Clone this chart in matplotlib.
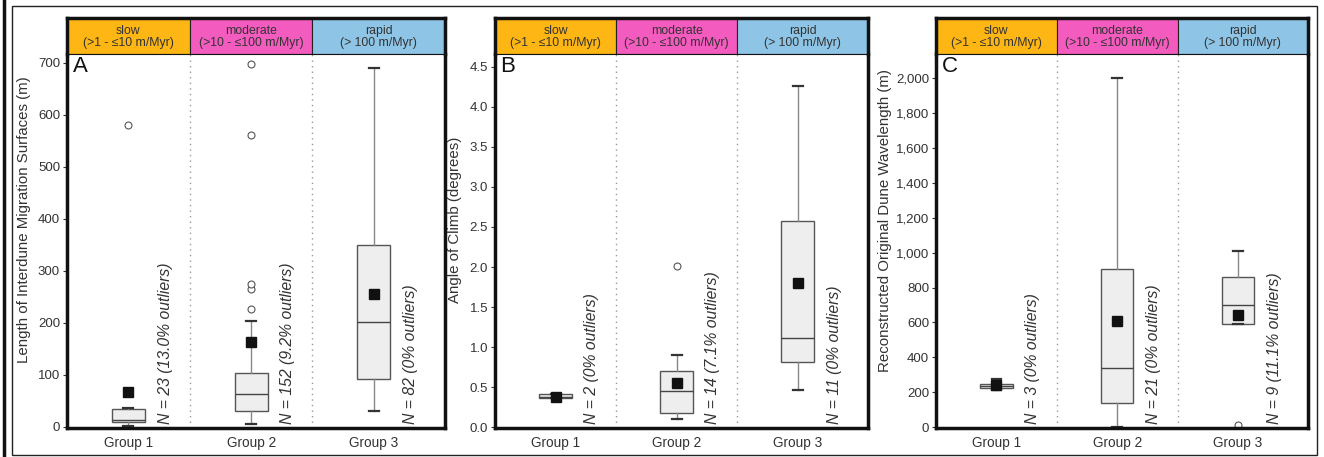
import matplotlib.pyplot as plt
from matplotlib.patches import Rectangle
from matplotlib.lines import Line2D
from matplotlib.ticker import FuncFormatter

plt.rcParams['font.family'] = ['Liberation Sans', 'DejaVu Sans']

groups = ['Group 1', 'Group 2', 'Group 3']
rate_names = ['slow\n(>1 - \u226410 m/Myr)', 'moderate\n(>10 - \u2264100 m/Myr)', 'rapid\n(> 100 m/Myr)']
rate_colors = ['#FDB614', '#F45BBF', '#8EC5E6']

# panel A - length of interdune migration surfaces (m)
a_q1 = [10, 30, 92]
a_med = [13, 63, 201]
a_q3 = [35, 104, 349]
a_lo = [2, 6, 31]
a_hi = [36, 203, 690]
a_mean = [67, 163, 256]
a_out = [[580], [226, 266, 275, 561, 698], []]
a_n = ['N = 23 (13.0% outliers)', 'N = 152 (9.2% outliers)', 'N = 82 (0% outliers)']

# panel B - angle of climb (degrees)
b_q1 = [0.36, 0.18, 0.81]
b_med = [0.38, 0.45, 1.12]
b_q3 = [0.41, 0.70, 2.58]
b_lo = [0.36, 0.10, 0.46]
b_hi = [0.41, 0.90, 4.26]
b_mean = [0.38, 0.55, 1.80]
b_out = [[], [2.01], []]
b_n = ['N = 2 (0% outliers)', 'N = 14 (7.1% outliers)', 'N = 11 (0% outliers)']

# panel C - reconstructed original dune wavelength (m)
c_q1 = [226, 141, 592]
c_med = [238, 340, 700]
c_q3 = [250, 907, 861]
c_lo = [215, 3, 592]
c_hi = [276, 2000, 1010]
c_mean = [244, 608, 645]
c_out = [[], [], [15]]
c_n = ['N = 3 (0% outliers)', 'N = 21 (0% outliers)', 'N = 9 (11.1% outliers)']

panels = [
    dict(letter='A', q1=a_q1, med=a_med, q3=a_q3, lo=a_lo, hi=a_hi, mean=a_mean, out=a_out, n=a_n,
         ylabel='Length of Interdune Migration Surfaces (m)', ylim=(-2, 717), ticks=range(0, 701, 100),
         left=67, right=445, ylab_x=24),
    dict(letter='B', q1=b_q1, med=b_med, q3=b_q3, lo=b_lo, hi=b_hi, mean=b_mean, out=b_out, n=b_n,
         ylabel='Angle of Climb (degrees)', ylim=(-0.01, 4.66), ticks=[i * 0.5 for i in range(10)],
         left=495, right=868, ylab_x=455),
    dict(letter='C', q1=c_q1, med=c_med, q3=c_q3, lo=c_lo, hi=c_hi, mean=c_mean, out=c_out, n=c_n,
         ylabel='Reconstructed Original Dune Wavelength (m)', ylim=(-4, 2137), ticks=range(0, 2001, 200),
         left=936, right=1308, ylab_x=885),
]

W, H = 1324, 457
fig = plt.figure(figsize=(W / 100, H / 100), dpi=100)

# outer frame
fig.add_artist(Rectangle((12 / W, 1 - 455 / H), 1305 / W, 449 / H, transform=fig.transFigure,
                         fill=False, lw=1.0, ec='#222222'))
fig.add_artist(Line2D([4 / W, 4 / W], [0, 1], transform=fig.transFigure, lw=2.5, color='#111111'))

plot_top, plot_bot, head_top = 54, 428, 18
xlim = (0.5, 3.58)

for p in panels:
    x0 = p['left'] / W
    w = (p['right'] - p['left']) / W
    ax = fig.add_axes([x0, 1 - plot_bot / H, w, (plot_bot - plot_top) / H])
    hx = fig.add_axes([x0, 1 - plot_top / H, w, (plot_top - head_top) / H])

    # header with rate classes
    hx.set_xlim(xlim)
    hx.set_ylim(0, 1)
    edges = [0.5, 1.5, 2.5, xlim[1]]
    for i in range(3):
        hx.add_patch(Rectangle((edges[i], 0), edges[i + 1] - edges[i], 1, fc=rate_colors[i], ec='#222222', lw=0.8))
        hx.text((edges[i] + edges[i + 1]) / 2, 0.47, rate_names[i], ha='center', va='center',
                fontsize=8.8, color='#333333', linespacing=1.05)
    hx.set_xticks([])
    hx.set_yticks([])
    for s in hx.spines.values():
        s.set_linewidth(2.5)
        s.set_color('#111111')
    hx.spines['bottom'].set_linewidth(0.8)

    stats = []
    for i in range(3):
        stats.append(dict(q1=p['q1'][i], med=p['med'][i], q3=p['q3'][i], whislo=p['lo'][i],
                          whishi=p['hi'][i], mean=p['mean'][i], fliers=p['out'][i]))
    ax.bxp(stats, positions=[1, 2, 3], widths=0.27, showmeans=True, patch_artist=True,
           boxprops=dict(facecolor='#EEEEEE', edgecolor='#555555', lw=1.0),
           medianprops=dict(color='#444444', lw=1.0),
           whiskerprops=dict(color='#888888', lw=1.0),
           capprops=dict(color='#333333', lw=1.6), capwidths=0.08,
           meanprops=dict(marker='s', markerfacecolor='#111111', markeredgecolor='#111111', markersize=6.5),
           flierprops=dict(marker='o', markerfacecolor='white', markeredgecolor='#555555', markersize=5, mew=0.8))

    for xd in (1.5, 2.5):
        ax.axvline(xd, color='#999999', ls=(0, (1, 3)), lw=1.0, zorder=0)

    for i in range(3):
        ax.text(i + 1.3, 0.012, p['n'][i], transform=ax.get_xaxis_transform(), rotation=90,
                ha='center', va='bottom', fontsize=11.3, style='italic', color='#333333')

    ax.text(0.015, 0.995, p['letter'], transform=ax.transAxes, ha='left', va='top', fontsize=16, color='#111111')

    ax.set_xlim(xlim)
    ax.set_ylim(p['ylim'])
    ax.set_yticks(list(p['ticks']))
    if p['letter'] == 'B':
        ax.yaxis.set_major_formatter(FuncFormatter(lambda v, pos: f'{v:.1f}'))
    else:
        ax.yaxis.set_major_formatter(FuncFormatter(lambda v, pos: f'{v:,.0f}'))
    ax.set_xticks([1, 2, 3])
    ax.set_xticklabels(groups)
    ax.tick_params(axis='x', length=0, pad=6, labelsize=9.8, labelcolor='#333333')
    ax.tick_params(axis='y', length=3, width=0.8, color='#333333', pad=2, labelsize=9.5, labelcolor='#333333')
    for s in ('left', 'right', 'bottom'):
        ax.spines[s].set_linewidth(2.5)
        ax.spines[s].set_color('#111111')
    ax.spines['top'].set_visible(False)

    fig.text(p['ylab_x'] / W, 1 - 220 / H, p['ylabel'], rotation=90,
             ha='center', va='center', fontsize=10.8, color='#333333')

fig.savefig('out.png', dpi=100)
